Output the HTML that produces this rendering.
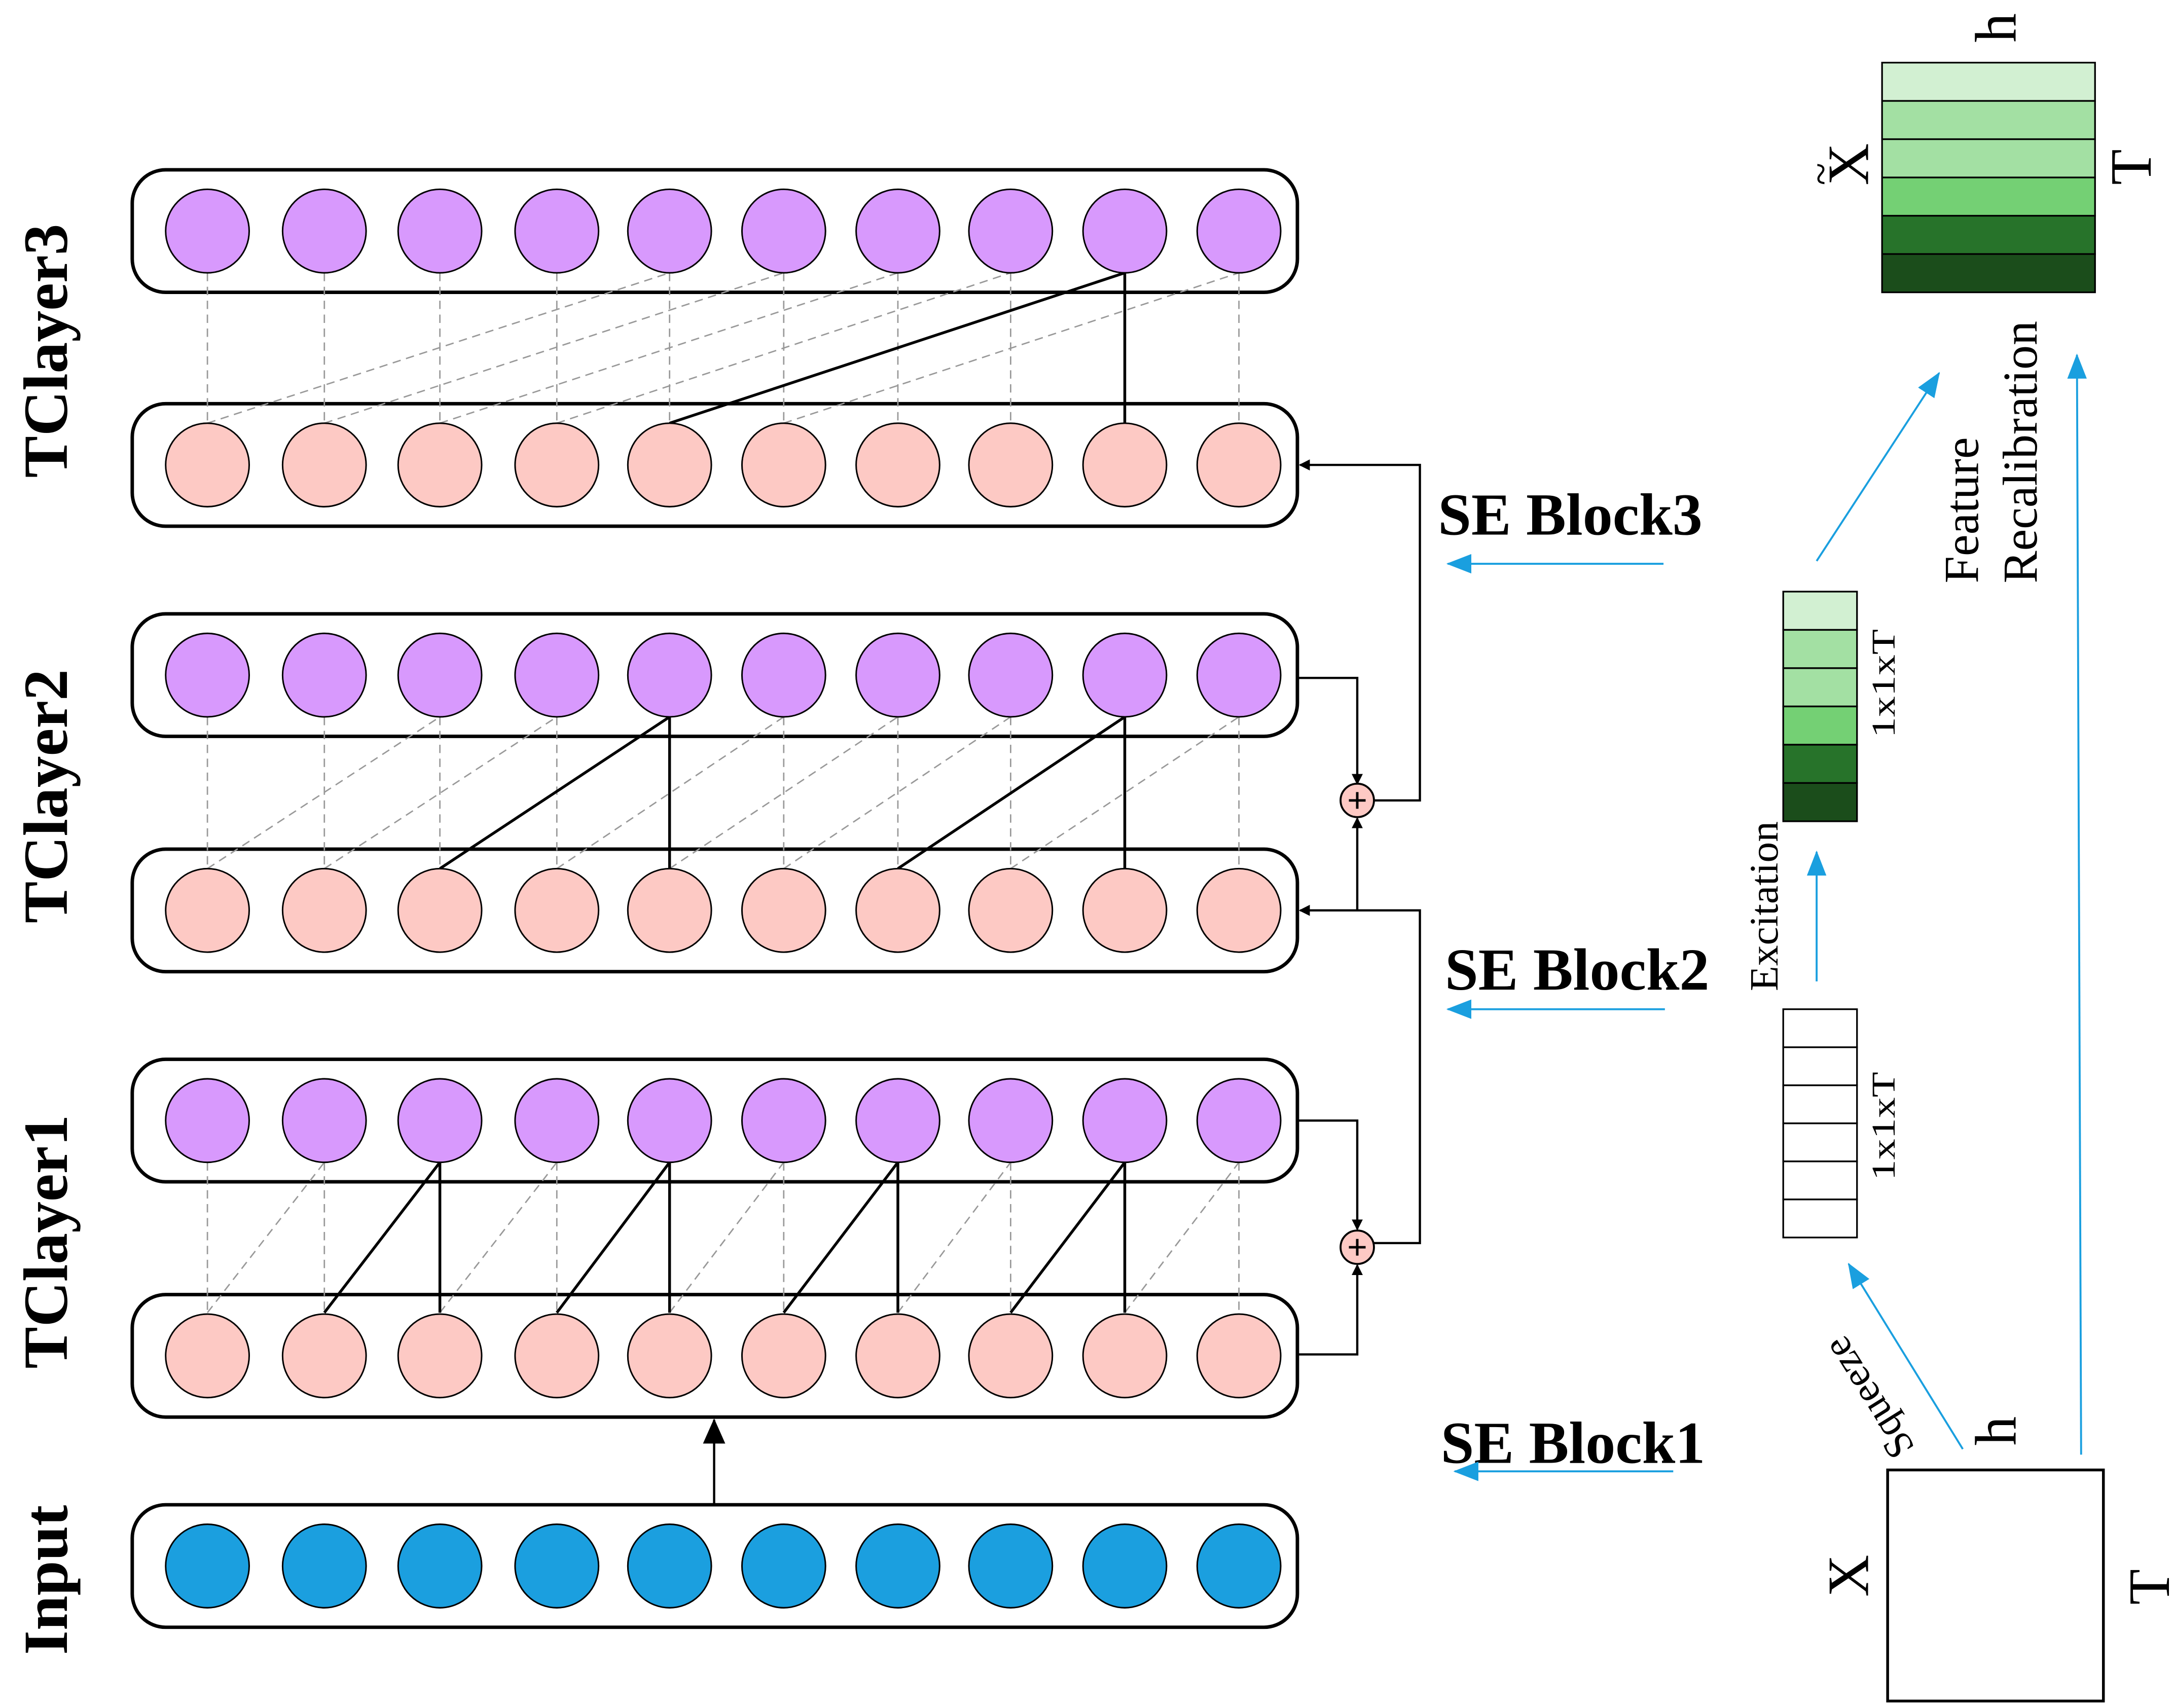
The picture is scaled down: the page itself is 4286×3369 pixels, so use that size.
<!DOCTYPE html>
<html><head><meta charset="utf-8"><style>
html,body{margin:0;padding:0;background:#fff;}
svg{display:block;}
text{font-family:"Liberation Serif",serif;}
</style></head><body>
<svg id="s" width="4286" height="3369" viewBox="0 0 1561 1227" preserveAspectRatio="none" xmlns="http://www.w3.org/2000/svg">
<defs>
<marker id="ab" markerWidth="8" markerHeight="8" refX="7" refY="4" orient="auto" markerUnits="userSpaceOnUse"><path d="M0,0 L8,4 L0,8 z" fill="#000"/></marker>
<marker id="abig" markerWidth="18" markerHeight="16" refX="17" refY="8" orient="auto" markerUnits="userSpaceOnUse"><path d="M0,0 L18,8 L0,16 z" fill="#000"/></marker>
<marker id="bl" markerWidth="18" markerHeight="14" refX="17" refY="7" orient="auto" markerUnits="userSpaceOnUse"><path d="M0,0 L18,7 L0,14 z" fill="#1a9fdf"/></marker>
</defs>
<g id="g"></g>
<g font-weight="bold" font-size="45" fill="#000">
<text transform="translate(48,252) rotate(-90)" text-anchor="middle">TClayer3</text>
<text transform="translate(48,572) rotate(-90)" text-anchor="middle">TClayer2</text>
<text transform="translate(48,892) rotate(-90)" text-anchor="middle">TClayer1</text>
<text transform="translate(48,1135) rotate(-90)" text-anchor="middle">Input</text>
</g>
<g font-weight="bold" font-size="43">
<text x="1033" y="384">SE Block3</text>
<text x="1038" y="711">SE Block2</text>
<text x="1035" y="1051">SE Block1</text>
</g>
<g stroke="#1a9fdf" stroke-width="1.4" fill="none">
<line x1="1195" y1="405" x2="1040" y2="405" marker-end="url(#bl)"/>
<line x1="1196" y1="725" x2="1040" y2="725" marker-end="url(#bl)"/>
<line x1="1202" y1="1057" x2="1045" y2="1057" marker-end="url(#bl)"/>
<line x1="1305" y1="705" x2="1305" y2="612" marker-end="url(#bl)"/>
<line x1="1305" y1="403" x2="1393" y2="268" marker-end="url(#bl)"/>
<line x1="1495" y1="1045" x2="1492" y2="255" marker-end="url(#bl)"/>
<line x1="1410" y1="1041" x2="1328" y2="908" marker-end="url(#bl)"/>
</g>
<rect x="1356" y="1056" width="155" height="166" fill="#fff" stroke="#000" stroke-width="2"/>
<g font-size="42">
<text transform="translate(1342,1132) rotate(-90)" text-anchor="middle">X</text>
<text transform="translate(1558,1140) rotate(-90)" text-anchor="middle">T</text>
<text transform="translate(1448,1028) rotate(-90)" text-anchor="middle">h</text>
<text transform="translate(1342,118) rotate(-90)" text-anchor="middle">X</text>
<text transform="translate(1318,125) rotate(-90)" text-anchor="middle" font-size="30">~</text>
<text transform="translate(1545,120) rotate(-90)" text-anchor="middle">T</text>
<text transform="translate(1448,20) rotate(-90)" text-anchor="middle">h</text>
</g>
<text transform="translate(1376,1040) rotate(238)" font-size="29">Squeeze</text>
<text transform="translate(1277,712) rotate(-90)" font-size="29" textLength="122" lengthAdjust="spacingAndGlyphs">Excitation</text>
<text transform="translate(1361,848) rotate(-90)" font-size="24" textLength="78" lengthAdjust="spacingAndGlyphs">1x1xT</text>
<text transform="translate(1361,530) rotate(-90)" font-size="24" textLength="78" lengthAdjust="spacingAndGlyphs">1x1xT</text>
<text transform="translate(1421,419) rotate(-90)" font-size="35">Feature</text>
<text transform="translate(1463,419) rotate(-90)" font-size="35">Recalibration</text>
<g id="cols"></g>
</svg>
<script>
var NS="http://www.w3.org/2000/svg",g=document.getElementById('g'),cols=document.getElementById('cols');
function el(p,t,a){var e=document.createElementNS(NS,t);for(var k in a)e.setAttribute(k,a[k]);p.appendChild(e);return e;}
var xs=[149,233,316,400,481,563,645,726,808,890],R=30;
var boxes=[[122,'#d899fd'],[290,'#fdc9c4'],[441,'#d899fd'],[610,'#fdc9c4'],[761,'#d899fd'],[930,'#fdc9c4'],[1081,'#1b9fdf']];
var layers=[{t:166,b:334,d:4,s:[9]},{t:485,b:654,d:2,s:[5,9]},{t:805,b:973,d:1,s:[3,5,7,9]}];
layers.forEach(function(L){
 var solidT={};L.s.forEach(function(k){solidT[k]=1;});
 for(var i=1;i<=10;i++){
  if(!(solidT[i])) el(g,'line',{x1:xs[i-1],y1:L.t+R,x2:xs[i-1],y2:L.b-R,stroke:'#999','stroke-width':1,'stroke-dasharray':'6,4'});
  var j=i+L.d;
  if(j<=10 && !solidT[j]) el(g,'line',{x1:xs[i-1],y1:L.b-R,x2:xs[j-1],y2:L.t+R,stroke:'#999','stroke-width':1,'stroke-dasharray':'6,4'});
 }
 L.s.forEach(function(k){
  el(g,'line',{x1:xs[k-1],y1:L.t+R,x2:xs[k-1],y2:L.b-R,stroke:'#000','stroke-width':2});
  el(g,'line',{x1:xs[k-1],y1:L.t+R,x2:xs[k-1-L.d],y2:L.b-R,stroke:'#000','stroke-width':2});
 });
});
boxes.forEach(function(b){
 var r=el(g,'rect',{x:95,y:b[0],width:837,height:88,rx:24,ry:24,fill:'none',stroke:'#000','stroke-width':2.5});
 g.insertBefore(r,g.firstChild);
 xs.forEach(function(x){el(g,'circle',{cx:x,cy:b[0]+44,r:R,fill:b[1],stroke:'#000','stroke-width':1.1});});
});
function pl(pts,m,w){el(g,'polyline',{points:pts,fill:'none',stroke:'#000','stroke-width':w||1.6,'marker-end':m?'url(#'+m+')':''});}
pl('513,1081 513,1020','abig',1.6);
pl('932,973 975,973 975,909','ab');
pl('932,805 975,805 975,883','ab');
pl('987,893 1020,893 1020,654 934,654','ab');
pl('975,654 975,588','ab');
pl('932,487 975,487 975,563','ab');
pl('987,575 1020,575 1020,334 934,334','ab');
[[975,896],[975,575]].forEach(function(c){
 el(g,'circle',{cx:c[0],cy:c[1],r:12,fill:'#fdc9c4',stroke:'#000','stroke-width':1.4});
 el(g,'path',{d:'M'+(c[0]-6)+','+c[1]+'h12M'+c[0]+','+(c[1]-6)+'v12',stroke:'#000','stroke-width':1.8});
});
var gc=['#d2f0d2','#a3e0a3','#a3e0a3','#74d074','#27732a','#1b4d1b'];
function col(x,y,w,h,fills){var ch=h/6;for(var i=0;i<6;i++)el(cols,'rect',{x:x,y:y+i*ch,width:w,height:ch,fill:fills[i],stroke:'#000','stroke-width':1.2});}
col(1281,725,53,164,['#fff','#fff','#fff','#fff','#fff','#fff']);
col(1281,425,53,165,gc);
col(1352,45,153,165,gc);
</script>
</body></html>
